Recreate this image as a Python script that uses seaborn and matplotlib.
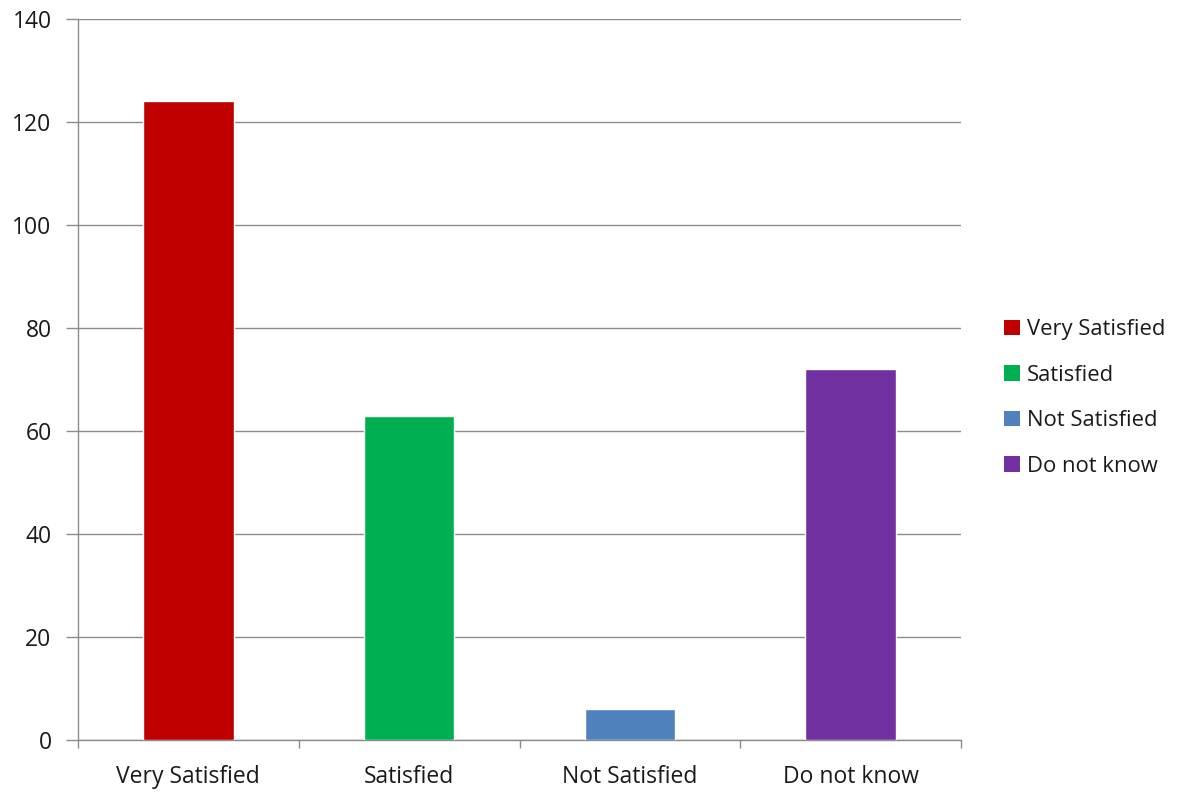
import matplotlib
matplotlib.use("Agg")
import matplotlib.pyplot as plt
import seaborn as sns
import pandas as pd
from matplotlib.patches import Patch

categories = ["Very Satisfied", "Satisfied", "Not Satisfied", "Do not know"]
values = [124, 63, 6, 72]
colors = ["#C00000", "#00B050", "#4F81BD", "#7030A0"]
y_ticks = [0, 20, 40, 60, 80, 100, 120, 140]

sns.set_theme(style="white")
plt.rcParams['font.family'] = ['Open Sans', 'DejaVu Sans']

df = pd.DataFrame({"category": categories, "value": values})

fig = plt.figure(figsize=(11.84, 7.92), dpi=100)
ax = fig.add_axes([78/1184, 52/792, (961-78)/1184, (740-19)/792])

sns.barplot(data=df, x="category", y="value", hue="category",
            palette=dict(zip(categories, colors)), order=categories,
            hue_order=categories, dodge=False, width=0.41, legend=False,
            saturation=1, ax=ax, zorder=3)

ax.set_ylim(0, 140)
ax.set_xlim(-0.5, len(categories) - 0.5)
ax.set_yticks(y_ticks)
ax.yaxis.grid(True, color="#8c8c8c", linewidth=1.0, zorder=0)
ax.set_axisbelow(True)
ax.set_xlabel("")
ax.set_ylabel("")

for s in ["top", "right"]:
    ax.spines[s].set_visible(False)
for s in ["left", "bottom"]:
    ax.spines[s].set_color("#8c8c8c")
    ax.spines[s].set_linewidth(1.0)

ax.tick_params(axis="y", which="major", length=9, width=1.0, color="#8c8c8c",
               labelsize=16.5, labelcolor="#1a1a1a", pad=10, direction="out", left=True)
ax.tick_params(axis="x", which="major", length=0, labelsize=16.5,
               labelcolor="#1a1a1a", pad=18)
ax.set_xticks([i - 0.5 for i in range(len(categories) + 1)], minor=True)
ax.tick_params(axis="x", which="minor", length=6, width=1.0, color="#8c8c8c",
               direction="out", bottom=True)

handles = [Patch(facecolor=c, edgecolor="none", label=l) for c, l in zip(colors, categories)]
fig.legend(handles=handles, loc="center left", bbox_to_anchor=(984/1184, 1 - 398/792),
           frameon=False, fontsize=15.8, handlelength=0.72, handleheight=0.72,
           handletextpad=0.32, labelspacing=1.12, labelcolor="#1a1a1a")

fig.savefig("out.png", dpi=100)
